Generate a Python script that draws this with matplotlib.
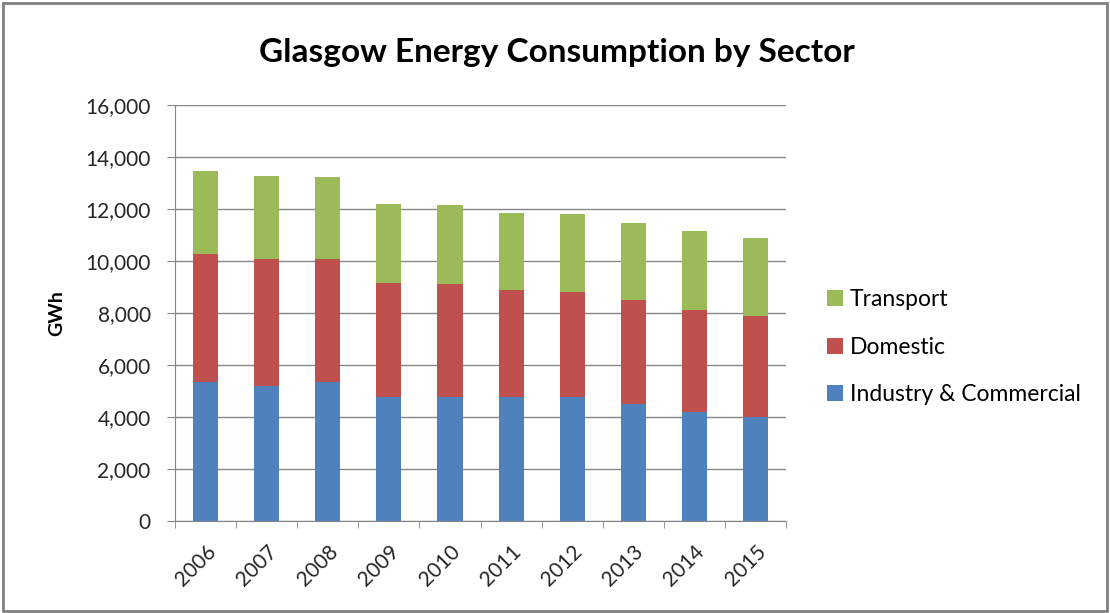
import numpy as np
import matplotlib.pyplot as plt
from matplotlib.patches import Rectangle

years = ['2006', '2007', '2008', '2009', '2010', '2011', '2012', '2013', '2014', '2015']
industry = [5360, 5190, 5360, 4780, 4780, 4760, 4760, 4500, 4200, 3990]  # Industry & Commercial
domestic_top = [10270, 10080, 10080, 9170, 9100, 8880, 8820, 8500, 8120, 7880]
total = [13470, 13280, 13220, 12190, 12150, 11860, 11800, 11470, 11170, 10870]

domestic = [d - i for d, i in zip(domestic_top, industry)]
transport = [t - d for t, d in zip(total, domestic_top)]

plt.rcParams['font.family'] = ['Lato', 'DejaVu Sans']

fig = plt.figure(figsize=(11.1, 6.13), dpi=100)
ax = fig.add_axes([0.1577, 0.150, 0.5505, 0.6787])

x = np.arange(len(years))
w = 0.41
ax.bar(x, industry, w, color='#4F81BD', label='Industry & Commercial', zorder=3)
ax.bar(x, domestic, w, bottom=industry, color='#C0504D', label='Domestic', zorder=3)
ax.bar(x, transport, w, bottom=domestic_top, color='#9BBB59', label='Transport', zorder=3)

ax.set_xlim(-0.5, len(years) - 0.5)
ax.set_ylim(0, 16000)
ax.set_yticks(range(0, 16001, 2000))
ax.set_yticklabels(['{:,}'.format(v) for v in range(0, 16001, 2000)], fontsize=15, color='#262626')
ax.set_xticks(x)
ax.set_xticklabels(years, rotation=45, fontsize=15, color='#262626', ha='right', rotation_mode='anchor')
ax.set_xticks(np.arange(-0.5, len(years)), minor=True)
ax.grid(axis='y', color='#868686', linewidth=1, zorder=0)

for s in ['top', 'right']:
    ax.spines[s].set_visible(False)
ax.spines['left'].set_color('#868686')
ax.spines['bottom'].set_color('#868686')
ax.tick_params(axis='y', length=5.5, color='#868686', pad=12)
ax.tick_params(axis='x', which='major', length=0, pad=15)
ax.tick_params(axis='x', which='minor', length=5, color='#868686')

ax.set_ylabel('GWh', fontsize=14, fontweight='bold')
ax.yaxis.set_label_coords(-0.18, 0.5)
fig.text(0.502, 0.915, 'Glasgow Energy Consumption by Sector', ha='center', va='center',
         fontsize=24, fontweight='bold')

h, l = ax.get_legend_handles_labels()
ax.legend(h[::-1], l[::-1], loc='center left', bbox_to_anchor=(1.067, 0.418), frameon=False,
          borderaxespad=0, borderpad=0,
          fontsize=16.5, handlelength=0.7, handleheight=0.7, handletextpad=0.3, labelspacing=1.15)

fig.patches.append(Rectangle((0.003, 0.003), 0.994, 0.992, transform=fig.transFigure,
                             fill=False, edgecolor='#7f7f7f', linewidth=2))

plt.savefig('out.png', dpi=100)
